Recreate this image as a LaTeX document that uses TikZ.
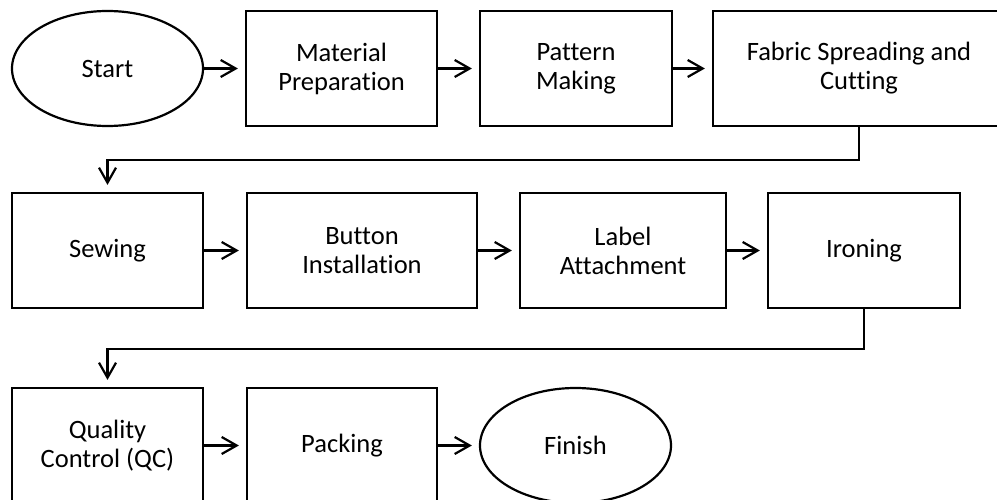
\documentclass[tikz,border=0pt]{standalone}
\usepackage{fontspec}
\setmainfont{Carlito}[Ligatures=NoCommon]
\usetikzlibrary{shapes.geometric,arrows.meta}

\tikzset{
  label font/.style={font=\fontsize{26.5}{29}\selectfont},
  stepbox/.style={draw, line width=2.2pt, rectangle, minimum height=115pt,
    inner sep=0pt, align=center, label font},
  terminal/.style={draw, line width=2.2pt, ellipse, minimum width=191pt,
    minimum height=115pt, inner sep=0pt, align=center, label font},
  flow/.style={line width=2.2pt, shorten >=7pt,
    -{Straight Barb[length=15pt,width=17pt,line width=2.2pt]}},
}

\begin{document}
\begin{tikzpicture}[x=1pt, y=-1pt]
  \clip (0,0) rectangle (997,500);

  % first row
  \node[terminal] (start) at (107.5,68.5) {Start};
  \node[stepbox, minimum width=191pt] (mat) at (341.5,68.5) {Material\\Preparation};
  \node[stepbox, minimum width=192pt] (pat) at (576,68.5) {Pattern\\Making};
  \node[stepbox, minimum width=292pt] (fab) at (859,68.5) {Fabric Spreading and\\Cutting};

  % second row
  \node[stepbox, minimum width=191pt] (sew) at (107.5,250.5) {Sewing};
  \node[stepbox, minimum width=230pt] (btn) at (362,250.5) {Button\\Installation};
  \node[stepbox, minimum width=206pt] (lab) at (623,250.5) {Label\\Attachment};
  \node[stepbox, minimum width=192pt] (iron) at (864,250.5) {Ironing};

  % third row
  \node[stepbox, minimum width=191pt] (qc) at (107.5,445.5) {Quality\\Control (QC)};
  \node[stepbox, minimum width=190pt] (pack) at (342,445.5) {Packing};
  \node[terminal] (fin) at (575.5,445.5) {Finish};

  % connectors
  \draw[flow] (start.east) -- (mat.west);
  \draw[flow] (mat.east) -- (pat.west);
  \draw[flow] (pat.east) -- (fab.west);
  \draw[flow] (fab.south) -- ++(0,33) -| (sew.north);

  \draw[flow] (sew.east) -- (btn.west);
  \draw[flow] (btn.east) -- (lab.west);
  \draw[flow] (lab.east) -- (iron.west);
  \draw[flow] (iron.south) -- ++(0,40) -| (qc.north);

  \draw[flow] (qc.east) -- (pack.west);
  \draw[flow] (pack.east) -- (fin.west);
\end{tikzpicture}
\end{document}
